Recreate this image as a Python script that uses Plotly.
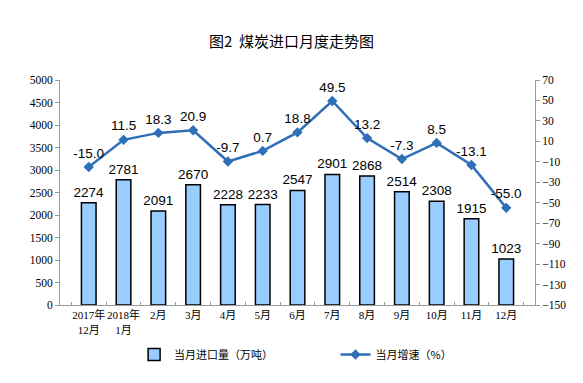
import plotly.graph_objects as go

categories = ["2017年<br>12月", "2018年<br>1月", "2月", "3月", "4月", "5月", "6月",
              "7月", "8月", "9月", "10月", "11月", "12月"]
imports = [2274, 2781, 2091, 2670, 2228, 2233, 2547, 2901, 2868, 2514, 2308, 1915, 1023]
growth = [-15.0, 11.5, 18.3, 20.9, -9.7, 0.7, 18.8, 49.5, 13.2, -7.3, 8.5, -13.1, -55.0]

left_ticks = list(range(0, 5001, 500))
right_ticks = list(range(-150, 71, 20))

fig = go.Figure()
fig.add_trace(go.Bar(
    x=categories, y=imports, name="当月进口量（万吨）", legend="legend",
    marker=dict(color="#99CCFF", line=dict(color="#000000", width=1.5)),
    text=[str(v) for v in imports], textposition="outside", constraintext="none",
    textfont=dict(family="Liberation Sans, Arial", size=13.5, color="#000"),
    cliponaxis=False,
))
fig.add_trace(go.Scatter(
    x=categories, y=growth, name="当月增速（%）", yaxis="y2", legend="legend2",
    mode="lines+markers+text",
    line=dict(color="#2E6FB8", width=2.5),
    marker=dict(symbol="diamond", size=8, color="#2E6FB8"),
    text=[f"{v:.1f}" for v in growth], textposition="top center",
    textfont=dict(family="Liberation Sans, Arial", size=13.5, color="#000"),
    cliponaxis=False,
))

legend_font = dict(family="Noto Sans CJK SC", size=11, color="#000")

fig.update_layout(
    width=583, height=383,
    margin=dict(l=60, r=48, t=80, b=78, autoexpand=False),
    plot_bgcolor="white", paper_bgcolor="white",
    bargap=0.58,
    title=dict(text="图2  煤炭进口月度走势图", x=0.5, xanchor="center", y=0.89, yanchor="middle",
               font=dict(family="Noto Sans CJK SC", size=15, color="#000")),
    xaxis=dict(showline=True, linecolor="#999", ticks="inside", tickson="boundaries",
               ticklen=3, tickcolor="#999", tickangle=0, automargin=False,
               tickfont=dict(family="Liberation Serif, Noto Sans CJK SC", size=11, color="#000")),
    yaxis=dict(range=[0, 5000], tickvals=left_ticks, showgrid=False, zeroline=False,
               showline=True, linecolor="#999", ticks="outside", ticklen=4, tickcolor="#999",
               automargin=False,
               tickfont=dict(family="Liberation Serif, Times New Roman", size=11.5, color="#000")),
    yaxis2=dict(range=[-150, 70], tickvals=right_ticks, overlaying="y", side="right",
                showgrid=False, zeroline=False, showline=True, linecolor="#999",
                ticks="outside", ticklen=4, tickcolor="#999", automargin=False,
                tickfont=dict(family="Liberation Serif, Times New Roman", size=11.5, color="#000")),
    legend=dict(orientation="h", x=0.156, xanchor="left", y=-0.22, yanchor="middle",
                font=legend_font, bgcolor="rgba(0,0,0,0)"),
    legend2=dict(orientation="h", x=0.58, xanchor="left", y=-0.22, yanchor="middle",
                 font=legend_font, bgcolor="rgba(0,0,0,0)"),
    showlegend=True,
)

fig.write_html("out.html", post_script="document.body.style.margin='0';",
               config={"displayModeBar": False})
